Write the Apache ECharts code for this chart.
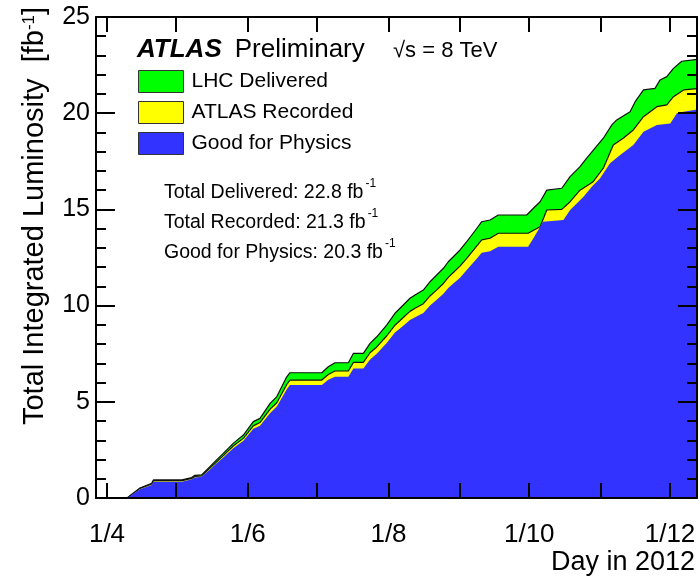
<!DOCTYPE html>
<html><head><meta charset="utf-8">
<script src="https://cdn.jsdelivr.net/npm/echarts@6/dist/echarts.min.js"></script>
<style>html,body{margin:0;padding:0;background:#fff}#c{width:700px;height:581px}</style>
</head><body><div id="c"></div>
<script>
// x values are day-of-year in 2012 (Jan 1 = 1)
const xMin = 87.23, xMax = 347.7;
const tickDays = [92,122,153,183,214,245,275,306,336];       // first day of each month Apr..Dec
const labelDays = [92,153,214,275,336];
const labelTexts = ['1/4','1/6','1/8','1/10','1/12'];

const seriesNames = ['LHC Delivered','ATLAS Recorded','Good for Physics'];
const seriesColors = ['#00ff00','#ffff00','#3333ff'];

const deliveredDays = [88,100.7,106.3,111.4,112.1,124.5,124.9,128.7,130.1,133.0,136.6,139.5,142.4,146.7,151.1,155.4,158.3,162.7,165.6,169.9,171.3,185.1,187.9,190.8,196.6,198.8,203.1,206.0,208.9,213.2,216.8,220.4,223.3,225.5,229.1,232.0,234.9,237.8,239.9,242.1,245.0,247.9,250.1,252.3,254.4,258.0,261.6,273.9,276.8,279.7,282.6,289.1,292.7,297.0,299.9,303.5,307.1,310.8,312.9,318.7,320.9,324.5,329.5,331.7,334.6,337.5,341.1,347.8];
const deliveredLumi = [0,0,0.52,0.76,0.94,0.94,1.0,1.06,1.18,1.2,1.63,1.98,2.32,2.84,3.27,3.97,4.14,4.92,5.27,6.3,6.51,6.51,6.82,7.03,7.03,7.52,7.52,8.04,8.38,8.99,9.6,10.03,10.38,10.55,10.81,11.24,11.59,11.94,12.28,12.54,12.89,13.32,13.67,14.02,14.36,14.45,14.71,14.71,15.06,15.4,16.0,16.1,16.7,17.22,17.66,18.18,18.7,19.39,19.65,20.08,20.6,21.21,21.29,21.73,21.9,22.33,22.7,22.8];

const recordedDays = [88,100.7,106.3,111.4,112.1,124.5,124.9,128.7,130.1,133.0,136.6,139.5,142.4,146.7,151.1,155.4,158.3,162.7,165.6,169.9,171.3,185.1,187.9,190.8,196.6,198.8,203.1,206.0,208.9,213.2,216.8,220.4,223.3,225.5,229.1,232.0,234.9,237.8,239.9,242.1,245.0,247.9,250.1,252.3,254.4,258.0,261.6,274.5,279.7,282.6,289.1,292.7,297.0,302.7,307.1,311.4,315.7,320.1,324.5,330.3,334.6,337.5,341.9,347.8];
const recordedLumi = [0,0,0.5,0.73,0.9,0.9,0.96,1.02,1.12,1.15,1.55,1.88,2.2,2.7,3.1,3.75,3.92,4.62,4.95,5.9,6.13,6.13,6.42,6.6,6.6,7.05,7.05,7.55,7.85,8.42,8.98,9.38,9.7,9.86,10.1,10.5,10.82,11.15,11.47,11.72,12.05,12.45,12.78,13.1,13.42,13.5,13.76,13.76,14.1,14.97,15.0,15.4,16.0,16.44,17.14,18.35,18.7,19.13,19.82,20.34,20.43,20.86,21.21,21.28];

const goodDays = [88,100.7,106.3,111.4,112.1,124.5,124.9,128.7,130.1,133.0,136.6,139.5,142.4,146.7,151.1,155.4,158.3,162.7,165.6,169.9,171.3,185.1,187.9,190.8,196.6,198.8,203.1,206.0,208.9,213.2,216.8,220.4,223.3,225.5,229.1,232.0,234.9,237.8,239.9,242.1,245.0,247.9,250.1,252.3,254.4,258.0,261.6,274.5,276.8,281.0,289.8,292.7,298.5,302.1,305.7,310.0,314.4,320.1,324.5,330.3,336.1,339.0,341.9,347.8];
const goodLumi = [0,0,0.45,0.68,0.84,0.84,0.9,0.97,1.06,1.1,1.48,1.8,2.1,2.58,2.97,3.6,3.76,4.42,4.75,5.65,5.87,5.87,6.15,6.3,6.3,6.73,6.73,7.2,7.5,8.05,8.6,8.95,9.25,9.4,9.62,10.0,10.3,10.62,10.92,11.15,11.45,11.85,12.15,12.45,12.75,12.82,13.06,13.06,13.5,14.36,14.45,14.97,15.66,16.18,16.62,17.4,17.83,18.35,19.04,19.39,19.47,20.0,20.08,20.2];

const totalLines = ['Total Delivered: 22.8 fb','Total Recorded: 21.3 fb','Good for Physics: 20.3 fb'];

const FONT = 'Liberation Sans, Arial, Helvetica, sans-serif';
const Y_MAX = 25;
const chart = echarts.init(document.getElementById('c'), null, {renderer:'canvas'});

function pairs(xs, ys){ return xs.map((x,i)=>[x, ys[i]]); }
function mkSeries(idx, xs, ys, outline){
  return {
    name: seriesNames[idx], type:'line', data: pairs(xs, ys),
    symbol:'none', showSymbol:false, smooth:false,
    color: seriesColors[idx],
    lineStyle: outline ? {color:'#111', width:1.2} : {width:0, color: seriesColors[idx]},
    areaStyle: {color: seriesColors[idx], opacity:1},
    emphasis:{disabled:true}, z: 2 + idx
  };
}

function xAxisDef(pos, showLabel){
  return {
    type:'value', min:xMin, max:xMax, position:pos, z:10,
    axisLine:{show:true, onZero:false, lineStyle:{color:'#000', width:2}},
    axisTick:{show:false},
    axisLabel: showLabel ? {show:true, customValues:labelDays.slice(), formatter:(v)=>labelTexts[labelDays.indexOf(v)],
        fontSize:26, color:'#000', fontFamily:FONT, margin:24} : {show:false},
    splitLine:{show:false}, minorTick:{show:false}
  };
}
function yAxisDef(pos, showLabel){
  return {
    type:'value', min:0, max:Y_MAX, interval:5, position:pos, z:10,
    axisLine:{show:true, onZero:false, lineStyle:{color:'#000', width:2}},
    axisTick:{show:true, inside:true, length:19, lineStyle:{color:'#000', width:2}},
    minorTick:{show:true, splitNumber:5, length:10, lineStyle:{color:'#000', width:2}},
    axisLabel: showLabel ? {show:true, fontSize:25, color:'#000', fontFamily:FONT, margin:6} : {show:false},
    splitLine:{show:false}
  };
}

const textGraphics = [
  {id:'ytitle', type:'text', x:35, y:216, rotation:Math.PI/2, z:100,
    style:{text:'Total Integrated Luminosity  [fb{s|-1}]', fill:'#000', font:'29px '+FONT,
      align:'center', verticalAlign:'middle',
      rich:{s:{fontSize:17, fill:'#000', fontFamily:FONT, verticalAlign:'top', lineHeight:22}}}},
  {id:'xtitle', type:'text', x:695, y:563, z:100,
    style:{text:'Day in 2012', fill:'#000', font:'27px '+FONT, align:'right', verticalAlign:'middle'}}
];

chart.setOption({
  animation:false,
  backgroundColor:'#fff',
  grid:{left:96, right:3, top:17, bottom:83},
  xAxis:[ xAxisDef('bottom', true), xAxisDef('top', false) ],
  yAxis:[ yAxisDef('left', true), yAxisDef('right', false) ],
  legend:{
    orient:'vertical', left:138, top:70, padding:0, itemWidth:45, itemHeight:22, itemGap:8,
    icon:'rect', selectedMode:false,
    textStyle:{fontSize:21, color:'#000', fontFamily:FONT, lineHeight:22, padding:[0,0,0,3]},
    data: seriesNames.map((n,i)=>({name:n, icon:'rect', itemStyle:{color:seriesColors[i], borderColor:'#333', borderWidth:1}}))
  },
  title:[
    {left:137, top:37, padding:0, text:'{a|ATLAS}{b|Preliminary}',
      textStyle:{fontWeight:'normal', rich:{a:{fontSize:26, fontWeight:'bold', fontStyle:'italic', color:'#000', fontFamily:FONT},
                       b:{fontSize:26, fontWeight:'normal', color:'#000', fontFamily:FONT, padding:[0,0,0,13]}}}},
    {left:393, top:40, padding:0, text:'√s = 8 TeV', textStyle:{fontSize:22, fontWeight:'normal', color:'#000', fontFamily:FONT}},
    {left:164, top:178, padding:0, text: totalLines.map(t=>'{t|'+t+'}{s|-1}').join('\n'),
      textStyle:{fontWeight:'normal', rich:{t:{fontSize:19.5, fontWeight:'normal', color:'#000', fontFamily:FONT, lineHeight:30},
                       s:{fontSize:12, fontWeight:'normal', color:'#000', fontFamily:FONT, verticalAlign:'top', lineHeight:20, padding:[0,0,0,2]}}}}
  ],
  graphic: textGraphics,
  series:[
    mkSeries(0, deliveredDays, deliveredLumi, true),
    mkSeries(1, recordedDays, recordedLumi, true),
    mkSeries(2, goodDays, goodLumi, false)
  ]
});

// month-start ticks on bottom and top frame edges, positioned through the x scale
try {
  const yBottom = chart.convertToPixel({yAxisIndex:0}, 0);
  const yTop = chart.convertToPixel({yAxisIndex:0}, Y_MAX);
  const tickGraphics = [];
  tickDays.forEach((d, i)=>{
    const px = Math.round(chart.convertToPixel({xAxisIndex:0}, d));
    tickGraphics.push(
      {id:'tb'+i, type:'line', z:100, silent:true, shape:{x1:px, y1:yBottom, x2:px, y2:yBottom-15}, style:{stroke:'#000', lineWidth:2}},
      {id:'tt'+i, type:'line', z:100, silent:true, shape:{x1:px, y1:yTop, x2:px, y2:yTop+15}, style:{stroke:'#000', lineWidth:2}}
    );
  });
  chart.setOption({graphic: textGraphics.concat(tickGraphics)});
} catch (e) { console.error(e); }
</script></body></html>
